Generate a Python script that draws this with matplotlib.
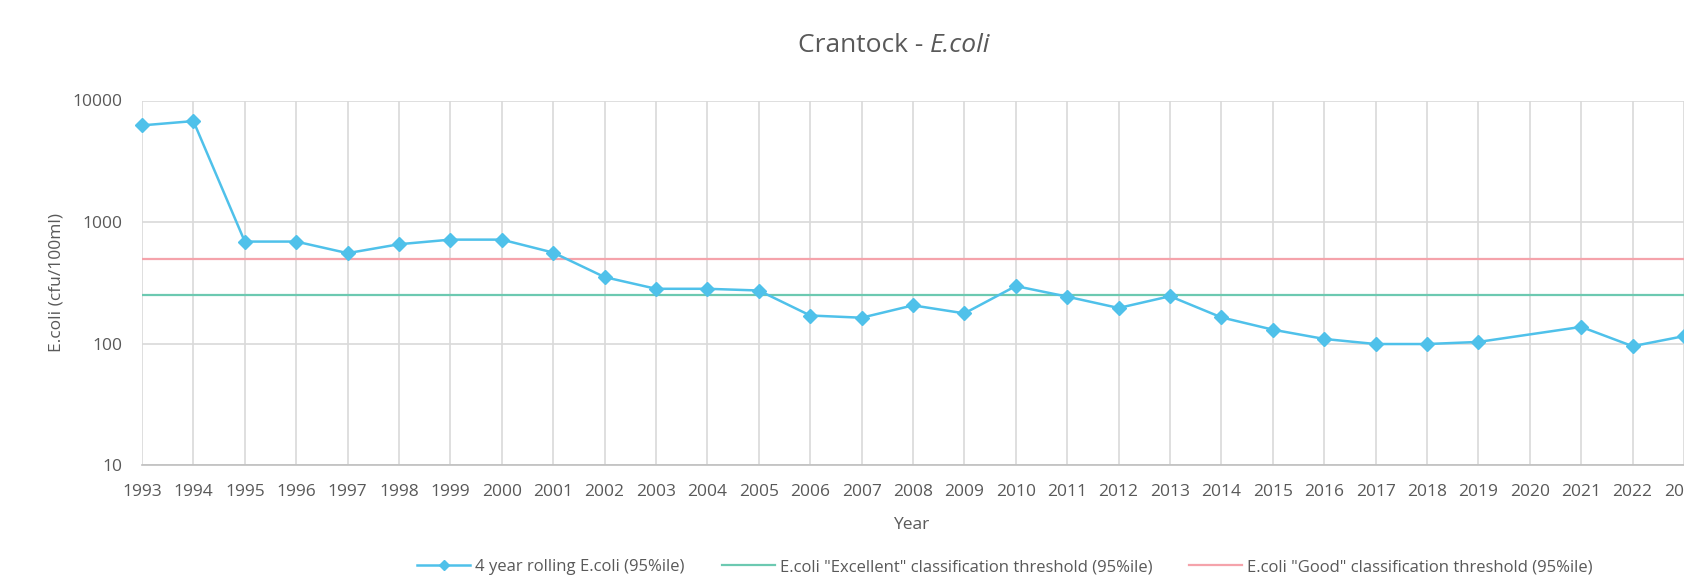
import matplotlib
matplotlib.use('Agg')
from matplotlib import pyplot as plt
from matplotlib.ticker import FixedLocator, NullLocator

years = list(range(1993, 2024))
ecoli_95 = [6240, 6770, 690, 690, 554, 656, 716, 716, 560, 352, 282, 282, 273,
            170, 163, 206, 177, 297, 243, 196, 245, 164, 130, 109, 99, 99, 103,
            None, 137, 95, 115]
excellent = 250
good = 500

y_ticks = [10, 100, 1000, 10000]
y_labels = ['10', '100', '1000', '10000']

blue = '#4fc1ea'
green = '#6cc9b1'
pink = '#f5a3ab'
grey_txt = '#595959'
grid_c = '#d9d9d9'

plt.rcParams['font.family'] = ['Open Sans', 'DejaVu Sans']

fig = plt.figure(figsize=(16.84, 5.77), dpi=100)
ax = fig.add_axes([142 / 1684, 1 - 465 / 577, 1542 / 1684, 364.5 / 577])

# the series has a gap at 2020, excel joins the neighbours
xs = [y for y, v in zip(years, ecoli_95) if v is not None]
vs = [v for v in ecoli_95 if v is not None]

ax.plot(years, [good] * len(years), color=pink, lw=1.6, zorder=2,
        label='E.coli "Good" classification threshold (95%ile)')
ax.plot(years, [excellent] * len(years), color=green, lw=1.6, zorder=2,
        label='E.coli "Excellent" classification threshold (95%ile)')
ax.plot(xs, vs, color=blue, lw=1.8, marker='D', ms=7, mec=blue, mfc=blue,
        zorder=3, clip_on=False, label='4 year rolling E.coli (95%ile)')

ax.set_yscale('log')
ax.set_ylim(10, 10000)
ax.set_xlim(1993, 2023)
ax.yaxis.set_major_locator(FixedLocator(y_ticks))
ax.yaxis.set_minor_locator(NullLocator())
ax.set_yticklabels(y_labels)
ax.set_xticks(years)
ax.set_xticklabels([str(y) for y in years])

ax.grid(True, color=grid_c, lw=1.2)
ax.set_axisbelow(True)
for s in ['top', 'right', 'left']:
    ax.spines[s].set_visible(False)
ax.spines['bottom'].set_color('#bfbfbf')
ax.spines['bottom'].set_linewidth(1.2)
ax.tick_params(axis='both', length=0, colors=grey_txt, labelsize=12.5)
ax.tick_params(axis='x', pad=14)
ax.tick_params(axis='y', pad=14)

ax.set_ylabel('E.coli (cfu/100ml)', color=grey_txt, fontsize=12.5, labelpad=6)
fig.text(911 / 1684, 1 - 525 / 577, 'Year', color=grey_txt, fontsize=12.5,
         ha='center', va='center')

t1 = fig.text(798 / 1684, 1 - 45 / 577, 'Crantock - ', color=grey_txt,
              fontsize=19, ha='left', va='center')
ax.annotate('E.coli', xy=(1, 0.5), xycoords=t1, color=grey_txt, fontsize=19,
            style='italic', ha='left', va='center')

h, l = ax.get_legend_handles_labels()
order = [2, 1, 0]
fig.legend([h[i] for i in order], [l[i] for i in order], loc='center',
           bbox_to_anchor=(1005 / 1684, 1 - 567 / 577), ncol=3, frameon=False,
           fontsize=12, labelcolor=grey_txt, handlelength=3.2,
           columnspacing=2.2, handletextpad=0.3, markerscale=0.75)

fig.savefig('out.png', dpi=100, facecolor='white')
